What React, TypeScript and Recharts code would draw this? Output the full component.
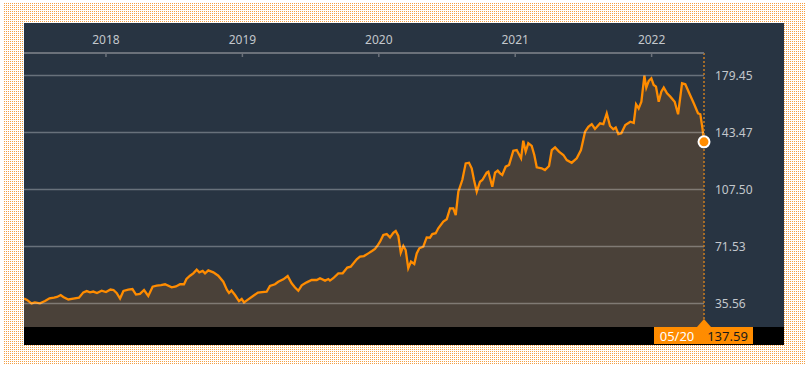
import {
  AreaChart,
  Area,
  XAxis,
  YAxis,
  ReferenceLine,
  ReferenceDot,
} from 'recharts';

// weekly-ish closes, x as decimal year
const times = [
  2017.399, 2017.421, 2017.454, 2017.479, 2017.516, 2017.553, 2017.586, 2017.619, 2017.641, 2017.668,
  2017.687, 2017.724, 2017.76, 2017.802, 2017.834, 2017.859, 2017.883, 2017.907, 2017.934, 2017.968,
  2018.0, 2018.033, 2018.055, 2018.078, 2018.103, 2018.128, 2018.163, 2018.194, 2018.22, 2018.249,
  2018.279, 2018.31, 2018.342, 2018.372, 2018.403, 2018.433, 2018.482, 2018.513, 2018.543, 2018.572,
  2018.59, 2018.616, 2018.64, 2018.665, 2018.684, 2018.709, 2018.726, 2018.75, 2018.787, 2018.823,
  2018.86, 2018.887, 2018.902, 2018.92, 2018.946, 2018.975, 2018.995,
  2019.012, 2019.043, 2019.078, 2019.114, 2019.144, 2019.178, 2019.202, 2019.239, 2019.263, 2019.3,
  2019.332, 2019.361, 2019.386, 2019.41, 2019.435, 2019.471, 2019.508, 2019.545, 2019.569, 2019.606,
  2019.63, 2019.642, 2019.666, 2019.703, 2019.735, 2019.769, 2019.794, 2019.838, 2019.862, 2019.891,
  2019.923, 2019.95, 2019.972, 2019.994,
  2020.009, 2020.033, 2020.058, 2020.082, 2020.106, 2020.124, 2020.143, 2020.161, 2020.18, 2020.197,
  2020.216, 2020.236, 2020.26, 2020.278, 2020.297, 2020.326, 2020.351, 2020.375, 2020.392, 2020.417,
  2020.436, 2020.473, 2020.498, 2020.522, 2020.546, 2020.564, 2020.583, 2020.612, 2020.637, 2020.661,
  2020.681, 2020.698, 2020.718, 2020.742, 2020.759, 2020.791, 2020.803, 2020.832, 2020.852, 2020.872,
  2020.889, 2020.905, 2020.93, 2020.955, 2020.986,
  2021.011, 2021.043, 2021.059, 2021.077, 2021.096, 2021.121, 2021.14, 2021.158, 2021.194, 2021.218,
  2021.248, 2021.268, 2021.292, 2021.321, 2021.353, 2021.378, 2021.414, 2021.451, 2021.482, 2021.512,
  2021.536, 2021.561, 2021.585, 2021.622, 2021.646, 2021.671, 2021.695, 2021.719, 2021.737, 2021.756,
  2021.778, 2021.807, 2021.844, 2021.869, 2021.886, 2021.905, 2021.925, 2021.947, 2021.961, 2021.979,
  2021.998,
  2022.015, 2022.032, 2022.052, 2022.071, 2022.089, 2022.113, 2022.137, 2022.169, 2022.194, 2022.223,
  2022.247, 2022.276, 2022.309, 2022.34, 2022.357, 2022.373, 2022.384,
];

const closes = [
  38.7, 37.8, 35.6, 36.3, 35.7, 37.1, 38.8, 39.3, 39.7, 40.9,
  39.7, 38.1, 38.7, 39.2, 42.6, 43.4, 42.6, 43.1, 42.2, 43.6,
  42.8, 44.4, 44.1, 42.2, 38.7, 43.5, 44.3, 44.7, 41.2, 41.6,
  44.1, 40.3, 46.2, 46.8, 47.2, 47.7, 45.8, 46.3, 47.7, 47.7,
  51.0, 53.1, 54.6, 56.9, 55.2, 56.1, 54.6, 56.5, 55.2, 53.1,
  49.3, 44.1, 42.2, 43.8, 40.9, 37.1, 38.4,
  36.3, 38.2, 40.3, 42.4, 42.8, 43.0, 46.6, 47.7, 49.3, 50.8,
  52.9, 48.3, 45.7, 43.6, 47.0, 48.9, 50.4, 50.4, 51.5, 50.0,
  51.0, 50.0, 51.5, 54.6, 54.6, 58.2, 58.8, 63.5, 65.1, 65.5,
  67.2, 68.7, 70.0, 72.5,
  74.6, 78.8, 79.4, 77.3, 80.2, 81.3, 78.2, 67.6, 71.9, 69.3,
  57.8, 62.0, 60.5, 67.2, 70.4, 71.4, 77.3, 77.1, 79.4, 79.9,
  83.0, 87.2, 88.7, 95.6, 95.6, 91.4, 106.1, 113.5, 124.0, 124.4,
  120.9, 113.5, 106.1, 112.4, 113.5, 118.1, 118.7, 109.3, 118.1, 119.4,
  117.7, 116.7, 121.9, 123.0, 132.0,
  132.4, 127.2, 138.3, 131.4, 136.7, 135.0, 129.3, 121.5, 120.9, 119.8,
  122.3, 132.4, 134.1, 131.4, 129.3, 126.1, 124.4, 127.2, 132.4, 144.0,
  147.1, 148.8, 145.7, 149.3, 148.8, 155.6, 147.6, 145.5, 146.6, 142.5,
  143.0, 148.2, 150.3, 149.5, 161.3, 158.7, 162.9, 179.4, 171.8, 176.0,
  177.7,
  173.5, 172.4, 162.9, 169.2, 171.8, 168.2, 166.1, 162.9, 155.0, 174.5,
  173.9, 168.2, 161.9, 155.6, 155.0, 146.0, 137.59,
];

const yearTicks = [2018, 2019, 2020, 2021, 2022];
const priceTicks = [35.56, 71.53, 107.5, 143.47, 179.45];
const lastDateLabel = '05/20';

const ORANGE = '#ff8c00';
const FONT = '"Noto Sans", Arial, sans-serif';
const PLOT_TOP = 30;

const data = times.map((t, i) => ({ t, close: closes[i] }));
const lastT = times[times.length - 1];
const lastV = closes[closes.length - 1];

function YearTick({ x, payload }: any) {
  return (
    <g>
      <text x={x} y={PLOT_TOP - 9} textAnchor="middle" fill="#c3c7cc" fontSize={12} fontFamily={FONT}>
        {payload.value}
      </text>
      <line x1={x} x2={x} y1={PLOT_TOP} y2={PLOT_TOP + 4} stroke="#6b717a" strokeWidth={1.5} />
    </g>
  );
}

function LastBadge({ viewBox }: any) {
  const x = viewBox.x;
  const bottom = viewBox.y + viewBox.height;
  return (
    <g>
      <polygon points={`${x - 7},${bottom} ${x + 7},${bottom} ${x},${bottom - 8}`} fill={ORANGE} />
      <rect x={x - 50} y={bottom} width={99} height={17} fill={ORANGE} />
      <text x={x - 27} y={bottom + 14} textAnchor="middle" fill="#fff" fontSize={13} fontFamily={FONT}>
        {lastDateLabel}
      </text>
      <text x={x + 23.5} y={bottom + 14} textAnchor="middle" fill="#1a1a1a" fontSize={13} fontFamily={FONT}>
        {lastV.toFixed(2)}
      </text>
    </g>
  );
}

export default function App() {
  return (
    <div style={{ position: 'absolute', left: 0, top: 0, width: 809, height: 367, background: '#fff' }}>
      <div
        style={{
          position: 'absolute',
          left: 4,
          top: 3,
          right: 4,
          bottom: 3,
          backgroundColor: '#f5a042',
          backgroundImage:
            'linear-gradient(90deg, transparent 1px, #fff 1px), linear-gradient(transparent 1px, #fff 1px)',
          backgroundSize: '2px 2px',
        }}
      />
      <div style={{ position: 'absolute', left: 24, top: 23, width: 760, height: 322, background: '#283442' }}>
        <div style={{ position: 'absolute', left: 0, bottom: 0, width: 760, height: 18, background: '#000' }} />
        <div style={{ position: 'absolute', left: 0, top: 0 }}>
          <AreaChart width={760} height={322} data={data} margin={{ top: 0, right: 0, bottom: 18, left: 0 }}>
            <XAxis
              dataKey="t"
              type="number"
              scale="linear"
              orientation="top"
              domain={[times[0], lastT]}
              ticks={yearTicks}
              tick={<YearTick />}
              tickLine={false}
              axisLine={{ stroke: '#6b717a', strokeWidth: 2 }}
              height={PLOT_TOP}
              interval={0}
            />
            <YAxis
              orientation="right"
              type="number"
              domain={[20.73, 193.65]}
              ticks={priceTicks}
              tickFormatter={(v: number) => v.toFixed(2)}
              axisLine={false}
              tickLine={false}
              tickMargin={5}
              width={80}
              tick={{ fill: '#c3c7cc', fontSize: 12, fontFamily: FONT }}
            />
            <Area
              type="linear"
              dataKey="close"
              stroke={ORANGE}
              strokeWidth={2.3}
              fill="#4a4139"
              fillOpacity={1}
              dot={false}
              activeDot={false}
              isAnimationActive={false}
            />
            {priceTicks.map((v) => (
              <ReferenceLine key={v} y={v} stroke="rgba(255,255,255,0.3)" strokeWidth={1.5} />
            ))}
            <ReferenceLine
              x={lastT}
              stroke="#c97c22"
              strokeWidth={1.5}
              strokeDasharray="2 2"
              label={<LastBadge />}
            />
            <ReferenceDot x={lastT} y={lastV} r={5.5} fill={ORANGE} stroke="#fff" strokeWidth={2} />
          </AreaChart>
        </div>
      </div>
    </div>
  );
}
